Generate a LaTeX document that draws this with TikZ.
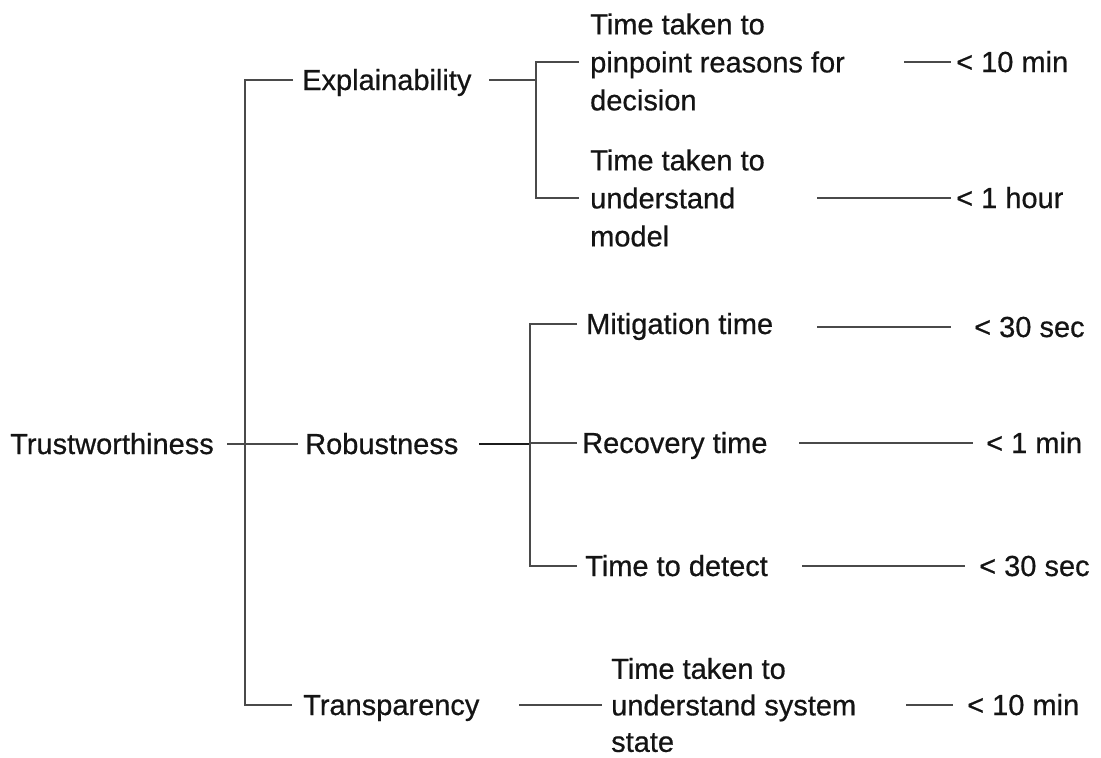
\documentclass[tikz,border=0pt]{standalone}
\usepackage{fontspec}
\setmainfont{Liberation Sans}[FakeBold=0.6]
\definecolor{txt}{HTML}{141414}
\definecolor{lc}{HTML}{4A4A4A}
\definecolor{lcdark}{HTML}{1C1C1C}
\begin{document}
\begin{tikzpicture}[x=1pt,y=-1pt,
  every node/.style={inner sep=0pt, text=txt, font=\fontsize{29}{38}\selectfont},
  lbl/.style={anchor=west, text height=21pt, text depth=1pt},
  multi/.style={anchor=west, align=left},
  conn/.style={draw=lc, line width=2pt},
  connstrong/.style={draw=lcdark, line width=2.6pt}]
\useasboundingbox[fill=white] (0,0) rectangle (1101,758);

% branch points
\coordinate (tk) at (245,444);
\coordinate (eb) at (536,80);
\coordinate (rb) at (530,444);

% root and first level
\node[lbl] (tw)  at (10,444)  {Trustworthiness};
\node[lbl] (ex)  at (302,80)  {Explainability};
\node[lbl] (rob) at (305,444) {Robustness};
\node[lbl] (tr)  at (303,705) {Transparency};

% second level
\node[multi] (pin) at (590,62)  {Time taken to\\pinpoint reasons for\\decision};
\node[multi] (und) at (590,198) {Time taken to\\understand\\model};
\node[lbl]   (mit) at (586,324) {Mitigation time};
\node[lbl]   (rec) at (582,443) {Recovery time};
\node[lbl]   (det) at (585,566) {Time to detect};
\node[multi, font=\fontsize{29}{36.5}\selectfont] (sys) at (611,705)
  {Time taken to\\understand system\\state};

% target values
\node[lbl] (v1) at (956,62)  {< 10 min};
\node[lbl] (v2) at (956,198) {< 1 hour};
\node[lbl] (v3) at (974,327) {< 30 sec};
\node[lbl] (v4) at (986,443) {< 1 min};
\node[lbl] (v5) at (979,566) {< 30 sec};
\node[lbl] (v6) at (967,705) {< 10 min};

% trunk
\draw[conn] ([xshift=-9pt]ex.west) -| (tk |- tr.west) -- ([xshift=-11pt]tr.west);
\draw[conn] ([xshift=-78pt]rob.west) -- ([xshift=-7pt]rob.west);

% explainability branch
\draw[conn] ([xshift=187pt]ex.west) -- (eb);
\draw[conn] ([xshift=-11pt]pin.west) -| (eb |- und.west) -- ([xshift=-11pt]und.west);

% robustness branch
\draw[connstrong] ([xshift=174pt]rob.west) -- (rb);
\draw[conn] ([xshift=-9pt]mit.west) -| (rb |- det.west) -- ([xshift=-8pt]det.west);
\draw[conn] (rb |- rec.west) -- ([xshift=-5pt]rec.west);

% transparency branch
\draw[conn] ([xshift=216pt]tr.west) -- ([xshift=-9pt]sys.west);

% links to target values
\draw[conn] ([xshift=-52pt]v1.west) -- ([xshift=-5pt]v1.west);
\draw[conn] ([xshift=-139pt]v2.west) -- ([xshift=-5pt]v2.west);
\draw[conn] ([xshift=-157pt]v3.west) -- ([xshift=-23pt]v3.west);
\draw[conn] ([xshift=-187pt]v4.west) -- ([xshift=-13pt]v4.west);
\draw[conn] ([xshift=-177pt]v5.west) -- ([xshift=-14pt]v5.west);
\draw[conn] ([xshift=-61pt]v6.west) -- ([xshift=-14pt]v6.west);
\end{tikzpicture}
\end{document}
